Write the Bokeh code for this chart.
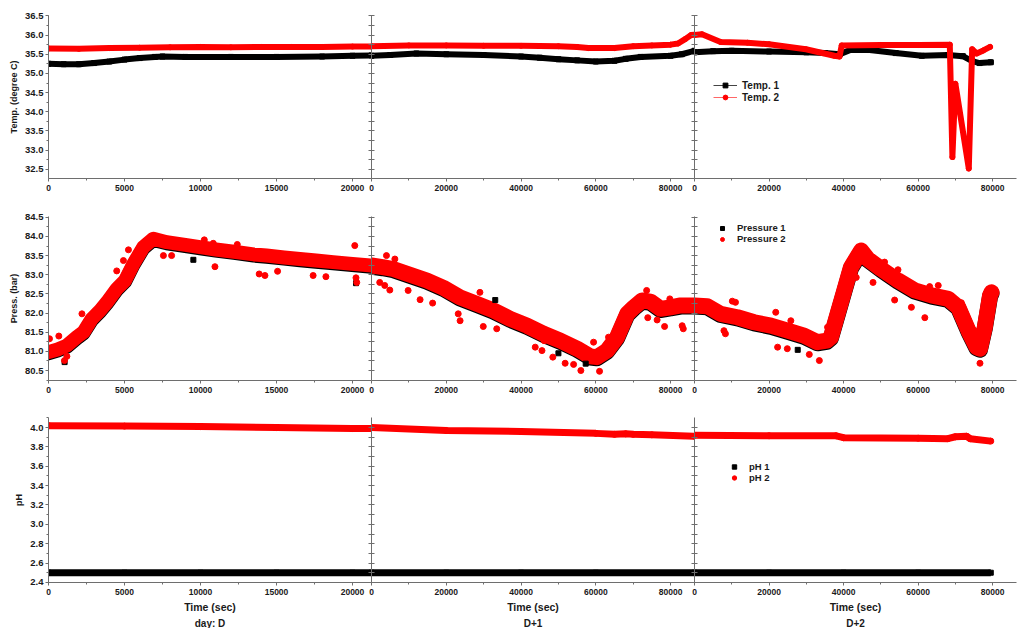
import numpy as np
from bokeh.plotting import figure
from bokeh.layouts import row, column
from bokeh.models import (Range1d, SingleIntervalTicker, FixedTicker, PrintfTickFormatter,
                          LinearAxis, Legend, LegendItem, Title)
from bokeh.embed import file_html
from bokeh.resources import INLINE

FONT = "Liberation Sans"
RED = "#ff0000"
BLACK = "#000000"
AXIS_C = "#6e6e6e"
TEXT_C = "#1a1a1a"

# ---------------- data ----------------
# Temperature, day D
TEMP1_D_T = [0, 1000, 2000, 3000, 4000, 5000, 6000, 7000, 7500, 9000, 12000, 15000, 18000, 20000, 21250]
TEMP1_D_V = [35.25, 35.24, 35.24, 35.27, 35.31, 35.36, 35.40, 35.43, 35.44, 35.43, 35.43, 35.43, 35.44, 35.46, 35.47]
TEMP2_D_T = [0, 2000, 4000, 6000, 8000, 10000, 12000, 14000, 16000, 18000, 20000, 21250]
TEMP2_D_V = [35.65, 35.64, 35.66, 35.67, 35.68, 35.69, 35.68, 35.69, 35.69, 35.69, 35.70, 35.70]
# Temperature, D+1
TEMP1_D1_T = [0, 5000, 12000, 20000, 30000, 40000, 45000, 50000, 55000, 60000, 65000, 68000, 72000, 80000, 83000, 86400]
TEMP1_D1_V = [35.46, 35.48, 35.52, 35.50, 35.48, 35.44, 35.41, 35.37, 35.34, 35.31, 35.33, 35.38, 35.43, 35.46, 35.50, 35.59]
TEMP2_D1_T = [0, 10000, 20000, 30000, 40000, 50000, 55000, 58000, 65000, 70000, 75000, 80000, 82000, 84000, 85500, 86400]
TEMP2_D1_V = [35.71, 35.73, 35.73, 35.72, 35.72, 35.71, 35.69, 35.66, 35.66, 35.71, 35.73, 35.75, 35.78, 35.90, 36.00, 36.01]
# Temperature, D+2
TEMP1_D2_T = [0, 5000, 10000, 20000, 30000, 35000, 39000, 42000, 47000, 54000, 61000, 68000, 72000, 74500, 76500, 79500]
TEMP1_D2_V = [35.55, 35.58, 35.59, 35.57, 35.55, 35.53, 35.50, 35.62, 35.61, 35.53, 35.46, 35.48, 35.45, 35.32, 35.27, 35.29]
TEMP2_D2_T = [0, 2000, 7000, 14200, 20000, 29900, 37500, 38900, 39500, 50000, 60000, 68500, 69200, 70000, 73600, 74500, 75700, 77500, 79300]
TEMP2_D2_V = [36.00, 36.02, 35.82, 35.80, 35.76, 35.63, 35.46, 35.44, 35.73, 35.74, 35.74, 35.75, 32.82, 34.73, 32.52, 35.63, 35.52, 35.60, 35.69]

# Pressure, day D
P_D_T = [0, 600, 1200, 1860, 2300, 2850, 3400, 3840, 4490, 5040, 5580, 6240, 6900, 7780, 9000, 9970,
         11000, 12200, 13500, 14350, 15500, 16540, 17600, 18730, 19800, 21250]
P2_D_V = [80.98, 81.05, 81.15, 81.37, 81.50, 81.85, 82.07, 82.28, 82.63, 82.85, 83.28, 83.72, 83.94, 83.85,
          83.78, 83.72, 83.66, 83.60, 83.53, 83.50, 83.45, 83.41, 83.37, 83.33, 83.29, 83.24]
P1_D_V = [80.95, 81.02, 81.12, 81.34, 81.47, 81.82, 82.04, 82.25, 82.60, 82.82, 83.25, 83.69, 83.91, 83.82,
          83.75, 83.69, 83.63, 83.57, 83.50, 83.47, 83.42, 83.38, 83.34, 83.30, 83.26, 83.21]
OUT2_D_T = [65, 680, 1050, 1210, 2200, 4490, 4600, 4930, 5260, 7560, 8100, 10250, 10840, 10950, 12420,
            13860, 14240, 15070, 17410, 18250, 20150, 20230, 20280]
OUT2_D_V = [81.33, 81.40, 80.76, 80.87, 81.98, 83.10, 82.58, 83.37, 83.65, 83.50, 83.50, 83.91, 83.82,
            83.21, 83.79, 83.02, 82.98, 83.09, 82.98, 82.95, 83.76, 82.92, 82.80]
OUT1_D_T = [1060, 9530, 20230]
OUT1_D_V = [80.72, 83.39, 82.78]

# Pressure, D+1
P_D1_T = [0, 3000, 5800, 10300, 14800, 19200, 23700, 28200, 32600, 37100, 41600, 46000, 50500, 55000,
          58500, 60300, 63000, 65700, 68400, 70200, 72400, 74600, 77300, 80000, 82700, 86400]
P2_D1_V = [83.24, 83.20, 83.15, 83.00, 82.85, 82.66, 82.41, 82.24, 82.07, 81.85, 81.67, 81.46, 81.28, 81.07,
           80.87, 80.85, 81.02, 81.37, 81.98, 82.15, 82.33, 82.30, 82.11, 82.15, 82.20, 82.20]
P1_D1_V = [83.21, 83.17, 83.12, 82.97, 82.82, 82.63, 82.38, 82.21, 82.04, 81.82, 81.64, 81.43, 81.25, 81.04,
           80.84, 80.82, 80.99, 81.34, 81.95, 82.12, 82.30, 82.27, 82.08, 82.12, 82.17, 82.17]
OUT2_D1_T = [4000, 6250, 2200, 3540, 4900, 9800, 13000, 16350, 23200, 23700, 29000, 29900, 33500, 43800,
             45600, 46200, 48500, 51800, 54060, 56000, 59400, 61000, 63400, 69100, 73600, 73900, 76400,
             78400, 79800, 83100, 83400]
OUT2_D1_V = [83.50, 83.41, 82.80, 82.72, 82.60, 82.59, 82.35, 82.26, 81.98, 81.80, 82.54, 81.65, 81.59,
             81.11, 81.02, 81.28, 80.85, 80.69, 80.66, 80.50, 81.24, 80.48, 81.37, 82.11, 82.59, 81.88,
             81.82, 81.65, 82.37, 81.67, 81.59]
OUT1_D1_T = [33100, 50000, 57300]
OUT1_D1_V = [82.34, 80.95, 80.68]

# Pressure, D+2
P_D2_T = [0, 3400, 7000, 11500, 16000, 20500, 25000, 29400, 33000, 35500, 36600, 38400, 40200, 42000,
          44700, 46500, 50100, 54600, 59100, 63600, 68100, 70800, 73500, 75700, 76600, 77900, 79300, 79700]
P2_D2_V = [82.20, 82.18, 81.98, 81.89, 81.76, 81.67, 81.54, 81.41, 81.24, 81.28, 81.37, 81.98, 82.59, 83.20,
           83.63, 83.41, 83.15, 82.85, 82.59, 82.46, 82.37, 82.15, 81.54, 81.11, 81.07, 81.63, 82.46, 82.54]
P1_D2_V = [82.17, 82.15, 81.95, 81.86, 81.73, 81.64, 81.51, 81.38, 81.21, 81.25, 81.34, 81.95, 82.56, 83.17,
           83.60, 83.38, 83.12, 82.82, 82.56, 82.43, 82.34, 82.12, 81.51, 81.08, 81.04, 81.60, 82.43, 82.51]
OUT2_D2_T = [10150, 11000, 7900, 8300, 21800, 22300, 24900, 25850, 30800, 33500, 35700, 43400, 47900,
             51000, 54600, 53700, 58200, 61800, 63100, 65400, 71600, 76600]
OUT2_D2_V = [82.31, 82.28, 81.54, 81.46, 82.02, 81.11, 81.07, 81.80, 80.92, 80.76, 81.63, 82.93, 82.80,
             83.33, 83.13, 82.34, 82.15, 81.88, 82.69, 82.72, 82.27, 80.69]
OUT1_D2_T = [27700]
OUT1_D2_V = [81.04]

# pH
PH2_D_T = [0, 5000, 10000, 15000, 20000, 21250]
PH2_D_V = [4.02, 4.015, 4.01, 4.00, 3.99, 3.99]
PH1_D_T = [0, 5000, 10000, 15000, 20000, 21250]
PH1_D_V = [2.50, 2.50, 2.50, 2.50, 2.50, 2.50]
PH2_D1_T = [0, 20000, 40000, 60000, 65000, 68000, 70000, 75000, 86400]
PH2_D1_V = [4.00, 3.97, 3.96, 3.94, 3.93, 3.935, 3.93, 3.925, 3.91]
PH1_D1_T = [0, 20000, 40000, 60000, 86400]
PH1_D1_V = [2.50, 2.50, 2.50, 2.50, 2.50]
PH2_D2_T = [0, 20000, 38000, 40000, 60000, 68000, 70000, 73000, 74000, 79500]
PH2_D2_V = [3.92, 3.915, 3.915, 3.895, 3.89, 3.885, 3.905, 3.91, 3.885, 3.86]
PH1_D2_T = [0, 20000, 40000, 60000, 79500]
PH1_D2_V = [2.50, 2.50, 2.50, 2.50, 2.50]

DAY_LABELS = ["day: D", "D+1", "D+2"]
Y_TITLES = ["Temp. (degree C)", "Press. (bar)", "pH"]
X_MAX = [21250, 86400, 86400]
X_INTERVAL = [5000, 20000, 20000]
Y_RANGE = [(32.26, 36.51), (80.24, 84.52), (2.399, 4.104)]
Y_INTERVAL = [0.5, 0.5, 0.2]
Y_TICK_FIRST = [32.5, 80.5, 2.4]
Y_TICK_LAST = [36.5, 84.5, 4.0]

FRAME_W = [323, 323, 322]
FRAME_H = [163, 164, 165]
TOP_B = [15, 6, 6]
BOT_B = [32, 31, 40]
BAND_W = [14, 16, 16]


def make_fig(r, c):
    p = figure(frame_width=FRAME_W[c], frame_height=FRAME_H[r],
               x_range=Range1d(0, X_MAX[c]), y_range=Range1d(*Y_RANGE[r]),
               output_backend="svg", toolbar_location=None,
               x_axis_location=None, y_axis_location=None,
               min_border_top=TOP_B[r], min_border_bottom=BOT_B[r],
               min_border_left=48 if c == 0 else 6,
               min_border_right=4 if c == 2 else 0)
    p.grid.visible = False
    p.outline_line_color = None
    if c > 0:
        p.margin = (0, 0, 0, -6)
        p.background_fill_alpha = 0
        p.border_fill_alpha = 0

    xa = LinearAxis(ticker=SingleIntervalTicker(interval=X_INTERVAL[c], num_minor_ticks=2),
                    formatter=PrintfTickFormatter(format="%d"))
    xa.axis_line_color = AXIS_C
    xa.major_tick_line_color = AXIS_C
    xa.minor_tick_line_color = AXIS_C
    xa.major_tick_out = 3
    xa.major_tick_in = 0
    xa.minor_tick_out = 2
    xa.minor_tick_in = 0
    xa.major_label_standoff = 3
    xa.major_label_text_font = FONT
    xa.major_label_text_font_size = "8.5px"
    xa.major_label_text_font_style = "bold"
    xa.major_label_text_color = TEXT_C
    if r == 2:
        xa.axis_label = "Time (sec)"
        xa.axis_label_text_font = FONT
        xa.axis_label_text_font_size = "10.5px"
        xa.axis_label_text_font_style = "bold"
        xa.axis_label_text_color = TEXT_C
        xa.axis_label_standoff = 3
    p.add_layout(xa, "below")

    if c == 0:
        ya = LinearAxis(ticker=SingleIntervalTicker(interval=Y_INTERVAL[r], num_minor_ticks=2),
                        formatter=PrintfTickFormatter(format="%.1f"))
        ya.major_tick_out = 3
        ya.major_tick_in = 0
        ya.minor_tick_out = 2
        ya.minor_tick_in = 0
        ya.major_label_standoff = 2
        ya.major_label_text_font = FONT
        ya.major_label_text_font_size = "9.5px"
        ya.major_label_text_font_style = "bold"
        ya.major_label_text_color = TEXT_C
        ya.axis_label = Y_TITLES[r]
        ya.axis_label_text_font = FONT
        ya.axis_label_text_font_size = "9px"
        ya.axis_label_text_font_style = "bold"
        ya.axis_label_text_color = TEXT_C
        ya.axis_label_standoff = 3
    else:
        # boundary axis: ticks crossing the line, no labels
        marks = list(np.round(np.arange(Y_TICK_FIRST[r], Y_TICK_LAST[r] + 1e-9,
                                        Y_INTERVAL[r] / 2), 4))
        ya = LinearAxis(ticker=FixedTicker(ticks=[], minor_ticks=marks))
        ya.minor_tick_out = 3
        ya.minor_tick_in = 3
        ya.major_tick_out = 0
        ya.major_tick_in = 0
    ya.axis_line_color = AXIS_C
    ya.major_tick_line_color = AXIS_C
    ya.minor_tick_line_color = AXIS_C
    p.add_layout(ya, "left")

    if r == 2:
        t = Title(text=DAY_LABELS[c], align="center", text_font=FONT,
                  text_font_size="10px", text_font_style="bold", text_color=TEXT_C)
        try:
            t.standoff = 0
        except Exception:
            pass
        p.add_layout(t, "below")
    return p


def style_legend(leg, size):
    leg.label_text_font = FONT
    leg.label_text_font_size = size
    leg.label_text_font_style = "bold"
    leg.label_text_color = TEXT_C
    leg.border_line_alpha = 0
    leg.background_fill_alpha = 0
    leg.padding = 0
    leg.margin = 0
    leg.spacing = 0
    leg.label_standoff = 5


figs = [[make_fig(r, c) for c in range(3)] for r in range(3)]

# ---- temperature row ----
temp_sets = [(TEMP1_D_T, TEMP1_D_V, TEMP2_D_T, TEMP2_D_V),
             (TEMP1_D1_T, TEMP1_D1_V, TEMP2_D1_T, TEMP2_D1_V),
             (TEMP1_D2_T, TEMP1_D2_V, TEMP2_D2_T, TEMP2_D2_V)]
temp_leg = None
for c, (t1, v1, t2, v2) in enumerate(temp_sets):
    p = figs[0][c]
    # thin line + markers (hidden beneath the thick traces; used as legend glyphs)
    ll1 = p.line(t1, v1, line_width=1, color="#444444")
    lm1 = p.scatter(t1, v1, marker="square", size=5, color=BLACK)
    ll2 = p.line(t2, v2, line_width=1, color="#ff6666")
    lm2 = p.scatter(t2, v2, marker="circle", size=5, color=RED)
    p.line(t1, v1, line_width=6, color=BLACK, line_join="round", line_cap="round")
    p.line(t2, v2, line_width=6, color=RED, line_join="round", line_cap="round")
    if c == 2:
        temp_leg = (ll1, lm1, ll2, lm2)

p = figs[0][2]
leg = Legend(items=[LegendItem(label="Temp. 1", renderers=[temp_leg[0], temp_leg[1]]),
                    LegendItem(label="Temp. 2", renderers=[temp_leg[2], temp_leg[3]])],
             location=(19, 75), glyph_width=24, glyph_height=12, label_height=12)
style_legend(leg, "10px")
p.add_layout(leg)

# ---- pressure row ----
press_sets = [(P_D_T, P1_D_V, P2_D_V, OUT1_D_T, OUT1_D_V, OUT2_D_T, OUT2_D_V),
              (P_D1_T, P1_D1_V, P2_D1_V, OUT1_D1_T, OUT1_D1_V, OUT2_D1_T, OUT2_D1_V),
              (P_D2_T, P1_D2_V, P2_D2_V, OUT1_D2_T, OUT1_D2_V, OUT2_D2_T, OUT2_D2_V)]
press_leg = None
for c, (t, v1, v2, o1t, o1v, o2t, o2v) in enumerate(press_sets):
    p = figs[1][c]
    p.line(t, v1, line_width=BAND_W[c], color=BLACK, line_join="round", line_cap="round")
    p.line(t, v2, line_width=BAND_W[c], color=RED, line_join="round", line_cap="round")
    s1 = p.scatter(o1t, o1v, marker="square", size=5, color=BLACK)
    s2 = p.scatter(o2t, o2v, marker="circle", size=6, color=RED)
    if c == 2:
        press_leg = (s1, s2)
p = figs[1][2]
leg = Legend(items=[LegendItem(label="Pressure 1", renderers=[press_leg[0]]),
                    LegendItem(label="Pressure 2", renderers=[press_leg[1]])],
             location=(18, 136), glyph_width=20, glyph_height=10, label_height=10)
style_legend(leg, "9.5px")
p.add_layout(leg)

# ---- pH row ----
ph_sets = [(PH1_D_T, PH1_D_V, PH2_D_T, PH2_D_V),
           (PH1_D1_T, PH1_D1_V, PH2_D1_T, PH2_D1_V),
           (PH1_D2_T, PH1_D2_V, PH2_D2_T, PH2_D2_V)]
ph_leg = None
for c, (t1, v1, t2, v2) in enumerate(ph_sets):
    p = figs[2][c]
    pm1 = p.scatter(t1, v1, marker="square", size=5, color=BLACK)
    pm2 = p.scatter(t2, v2, marker="circle", size=6, color=RED)
    p.line(t1, v1, line_width=7, color=BLACK)
    p.line(t2, v2, line_width=7, color=RED)
    if c == 2:
        ph_leg = (pm1, pm2)
p = figs[2][2]
leg = Legend(items=[LegendItem(label="pH 1", renderers=[ph_leg[0]]),
                    LegendItem(label="pH 2", renderers=[ph_leg[1]])],
             location=(30, 99), glyph_width=20, glyph_height=11, label_height=11)
style_legend(leg, "9.5px")
p.add_layout(leg)

layout = column(*[row(*figs[r], spacing=0) for r in range(3)], spacing=0)
open("out.html", "w").write(file_html(layout, INLINE))
